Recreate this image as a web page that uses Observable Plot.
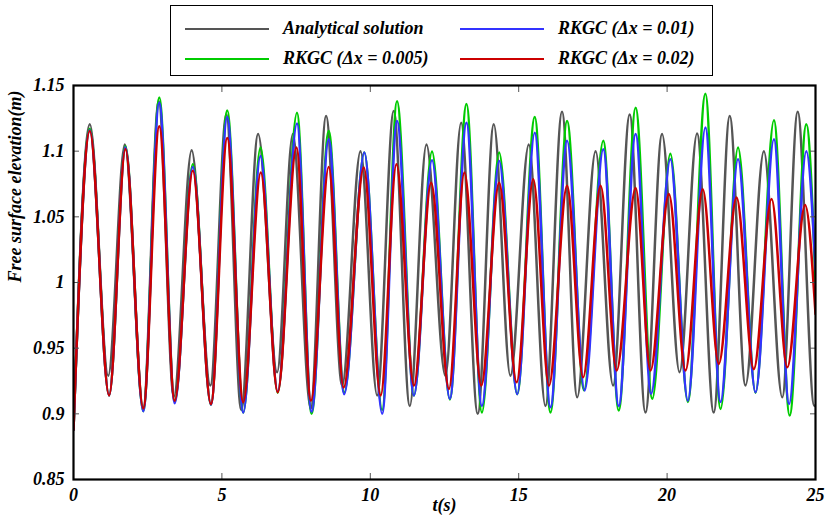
<!DOCTYPE html>
<html>
<head>
<meta charset="utf-8">
<script src="https://cdn.jsdelivr.net/npm/d3@7"></script>
<script src="https://cdn.jsdelivr.net/npm/@observablehq/plot@0.6"></script>
<style>
  html, body { margin: 0; padding: 0; background: #fff; }
  #wrap { position: relative; width: 830px; height: 527px; font-family: "Liberation Serif", "DejaVu Serif", serif; font-weight: bold; font-style: italic; }
  #legend { position: absolute; left: 170px; top: 5px; width: 541px; height: 69px; border: 1.5px solid #000; background: #fff; }
  .item { position: absolute; font-size: 18px; line-height: 20px; white-space: nowrap; }
  .sw { display: inline-block; width: 84px; height: 0; border-top: 2.5px solid; vertical-align: middle; margin-right: 14px; position: relative; top: -1px; }
</style>
</head>
<body>
<div id="wrap"><div id="legend"></div></div>
<script>
// ---- data (extrema) ----
const seriesNames = ["Analytical solution", "RKGC (\u0394x = 0.005)", "RKGC (\u0394x = 0.01)", "RKGC (\u0394x = 0.02)"];
const seriesColors = ["#555555", "#00cc00", "#3333ff", "#cc0000"];

const analyticT = [0, 0.55, 1.17, 1.73, 2.35, 2.87, 3.38, 3.98, 4.61, 5.15, 5.65, 6.22, 6.86, 7.39, 7.99, 8.51, 9.05, 9.67, 10.23, 10.79, 11.33, 11.89, 12.53, 13.06, 13.62, 14.16, 14.72, 15.34, 15.9, 16.46, 16.97, 17.59, 18.18, 18.74, 19.27, 19.83, 20.42, 21.01, 21.57, 22.11, 22.64, 23.26, 23.88, 24.4, 24.96, 25];
const analyticV = [0.888, 1.1205, 0.929, 1.105, 0.905, 1.138, 0.913, 1.1007, 0.9215, 1.128, 0.903, 1.113, 0.9316, 1.113, 0.9037, 1.1268, 0.9215, 1.100, 0.914, 1.1306, 0.906, 1.105, 0.929, 1.1217, 0.900, 1.1205, 0.929, 1.105, 0.906, 1.130, 0.9126, 1.100, 0.9215, 1.128, 0.901, 1.113, 0.9316, 1.1134, 0.901, 1.1268, 0.9215, 1.100, 0.9126, 1.130, 0.906, 0.9065];

const greenT = [0, 0.55, 1.2, 1.75, 2.35, 2.89, 3.41, 4.02, 4.63, 5.18, 5.72, 6.3, 6.88, 7.53, 8.02, 8.6, 9.12, 9.8, 10.4, 10.9, 11.47, 12.08, 12.68, 13.24, 13.76, 14.34, 14.95, 15.54, 16.07, 16.63, 17.2, 17.85, 18.37, 18.94, 19.5, 20.11, 20.7, 21.29, 21.8, 22.39, 22.98, 23.6, 24.13, 24.69, 25];
const greenV = [0.888, 1.117, 0.914, 1.104, 0.902, 1.1408, 0.909, 1.090, 0.907, 1.131, 0.901, 1.1027, 0.916, 1.1293, 0.900, 1.1154, 0.916, 1.099, 0.903, 1.138, 0.914, 1.0997, 0.911, 1.136, 0.901, 1.099, 0.915, 1.126, 0.901, 1.123, 0.918, 1.108, 0.9025, 1.133, 0.9114, 1.098, 0.909, 1.1438, 0.9037, 1.1027, 0.916, 1.1235, 0.8987, 1.1205, 1.0];

const blueT = [0, 0.55, 1.2, 1.75, 2.35, 2.89, 3.41, 4.02, 4.63, 5.18, 5.72, 6.3, 6.88, 7.53, 8.02, 8.6, 9.12, 9.8, 10.4, 10.9, 11.47, 12.08, 12.68, 13.24, 13.76, 14.34, 14.95, 15.54, 16.07, 16.63, 17.22, 17.85, 18.37, 18.94, 19.46, 20.11, 20.7, 21.29, 21.8, 22.39, 22.98, 23.6, 24.11, 24.69, 25];
const blueV = [0.888, 1.116, 0.914, 1.103, 0.902, 1.137, 0.908, 1.088, 0.907, 1.126, 0.901, 1.0964, 0.917, 1.121, 0.9015, 1.109, 0.915, 1.099, 0.900, 1.123, 0.914, 1.093, 0.9114, 1.1217, 0.906, 1.0926, 0.915, 1.114, 0.905, 1.108, 0.9177, 1.1015, 0.906, 1.113, 0.9152, 1.0939, 0.910, 1.118, 0.909, 1.0939, 0.9164, 1.109, 0.9075, 1.100, 1.01];

const redT = [0, 0.55, 1.2, 1.75, 2.35, 2.89, 3.41, 4.02, 4.63, 5.18, 5.72, 6.31, 6.88, 7.51, 8.0, 8.6, 9.1, 9.78, 10.35, 10.88, 11.47, 12.05, 12.65, 13.17, 13.74, 14.34, 14.93, 15.49, 16.02, 16.63, 17.17, 17.76, 18.3, 18.94, 19.44, 20.06, 20.62, 21.2, 21.74, 22.34, 22.92, 23.52, 24.05, 24.65, 25];
const redV = [0.888, 1.1154, 0.914, 1.1017, 0.904, 1.119, 0.910, 1.085, 0.9075, 1.110, 0.9088, 1.0837, 0.9164, 1.1027, 0.910, 1.088, 0.920, 1.0875, 0.914, 1.090, 0.9215, 1.076, 0.919, 1.0837, 0.9215, 1.076, 0.924, 1.0787, 0.9215, 1.0736, 0.9278, 1.0736, 0.933, 1.072, 0.933, 1.0673, 0.933, 1.071, 0.938, 1.0647, 0.934, 1.0635, 0.9354, 1.059, 0.976];

const xTicks = [0, 5, 10, 15, 20, 25];
const xTickLabels = ["0", "5", "10", "15", "20", "25"];
const yTicks = [0.85, 0.9, 0.95, 1, 1.05, 1.1, 1.15];
const yTickLabels = ["0.85", "0.9", "0.95", "1", "1.05", "1.1", "1.15"];
const xTitle = "t(s)";
const yTitle = "Free surface elevation(m)";

// ---- build table ----
const allT = [analyticT, greenT, blueT, redT];
const allV = [analyticV, greenV, blueV, redV];
const rows = [];
seriesNames.forEach((name, i) => {
  allT[i].forEach((t, j) => rows.push({series: name, t, v: allV[i][j]}));
});

const xFmt = d => xTickLabels[xTicks.indexOf(d)];
const yFmt = d => yTickLabels[yTicks.findIndex(v => Math.abs(v - d) < 1e-9)];

const chart = Plot.plot({
  width: 830,
  height: 527,
  marginLeft: 73,
  marginRight: 15,
  marginTop: 85,
  marginBottom: 48,
  style: {fontFamily: "'Liberation Serif', 'DejaVu Serif', serif", fontSize: "18px", fontWeight: "bold", fontStyle: "italic", color: "#000", background: "transparent"},
  x: {domain: [0, 25], ticks: xTicks, tickFormat: xFmt, label: null},
  y: {domain: [0.85, 1.15], ticks: yTicks, tickFormat: yFmt, label: null},
  color: {domain: seriesNames, range: seriesColors},
  marks: [
    Plot.line(rows, {x: "t", y: "v", z: "series", stroke: "series", curve: "monotone-x", strokeWidth: 2.5, clip: true}),
    // inner ticks on all four sides
    Plot.axisX({anchor: "bottom", ticks: xTicks, tickSize: 6, dy: -6, tickFormat: () => "", stroke: "#555"}),
    Plot.axisX({anchor: "top", ticks: xTicks, tickSize: 6, dy: 6, tickFormat: () => "", stroke: "#555"}),
    Plot.axisY({anchor: "left", ticks: yTicks, tickSize: 6, dx: 6, tickFormat: () => "", stroke: "#555"}),
    Plot.axisY({anchor: "right", ticks: yTicks, tickSize: 6, dx: -6, tickFormat: () => "", stroke: "#555"}),
    // labels
    Plot.axisX({anchor: "bottom", ticks: xTicks, tickSize: 0, tickPadding: 9, tickFormat: xFmt, label: null, fill: "#000"}),
    Plot.axisY({anchor: "left", ticks: yTicks, tickSize: 0, tickPadding: 9, tickFormat: yFmt, label: null, fill: "#000"}),
    Plot.frame({stroke: "#000", strokeWidth: 2.2}),
    Plot.text([xTitle], {frameAnchor: "bottom", dy: 31, text: d => d, fontSize: 18, fill: "#000"}),
    Plot.text([yTitle], {frameAnchor: "left", dx: -58, rotate: -90, text: d => d, fontSize: 18, fill: "#000"})
  ]
});
const wrap = document.getElementById("wrap");
wrap.insertBefore(chart, wrap.firstChild);

// ---- legend ----
const legend = document.getElementById("legend");
const legendPos = [[14, 12], [14, 42], [289, 12], [289, 42]];
[0, 1, 2, 3].forEach(i => {
  const it = document.createElement("div");
  it.className = "item";
  it.style.left = legendPos[i][0] + "px";
  it.style.top = legendPos[i][1] + "px";
  const sw = document.createElement("span");
  sw.className = "sw";
  sw.style.borderTopColor = seriesColors[i];
  it.appendChild(sw);
  it.appendChild(document.createTextNode(seriesNames[i]));
  legend.appendChild(it);
});
</script>
</body>
</html>
